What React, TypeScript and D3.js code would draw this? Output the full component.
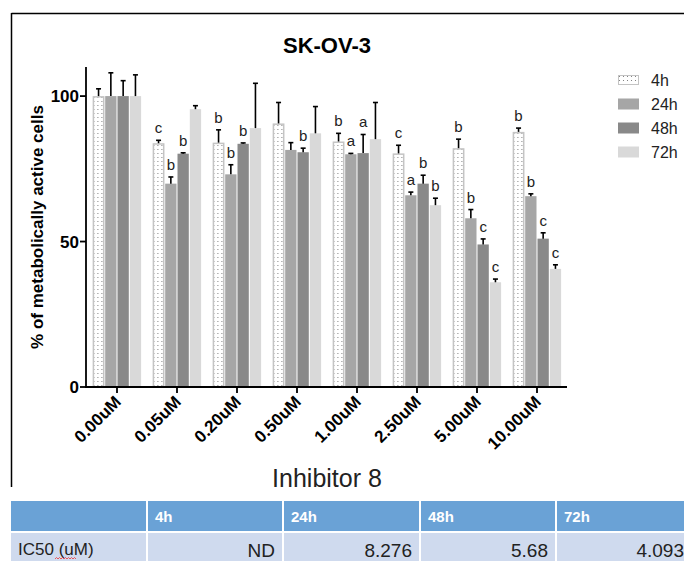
import React from "react";
import * as d3 from "d3";

const concentrations = ["0.00uM", "0.05uM", "0.20uM", "0.50uM", "1.00uM", "2.50uM", "5.00uM", "10.00uM"];
const seriesNames = ["4h", "24h", "48h", "72h"];
const mean4h = [100, 83.8, 84, 90.6, 84.4, 80.3, 82.1, 87.7];
const err4h = [2.5, 1, 4.4, 7.2, 2.8, 2.8, 3.1, 1.3];
const mean24h = [100, 69.9, 73.1, 81.5, 80, 65.9, 58, 65.6];
const err24h = [8, 2.3, 3.3, 2.5, 0.3, 1.1, 3, 0.8];
const mean48h = [100, 80.2, 83.6, 80.7, 80.4, 69.9, 49, 51];
const err48h = [5.3, 0.3, 0.3, 1.4, 6.4, 2.9, 1.9, 2];
const mean72h = [100, 95.5, 89, 87.2, 85.2, 62.5, 36, 40.6];
const err72h = [7.3, 1.2, 15.4, 9.2, 12.6, 2.4, 1.1, 1.4];
const letters4h = ["", "c", "b", "", "b", "c", "b", "b"];
const letters24h = ["", "b", "b", "", "a", "a", "b", "b"];
const letters48h = ["", "b", "b", "b", "a", "b", "c", "c"];
const letters72h = ["", "", "", "", "", "b", "c", "c"];
const yTicks = [0, 50, 100];
const tableHeader = ["", "4h", "24h", "48h", "72h"];
const tableRow = ["IC50 (uM)", "ND", "8.276", "5.68", "4.093"];

const means = [mean4h, mean24h, mean48h, mean72h];
const errs = [err4h, err24h, err48h, err72h];
const letters = [letters4h, letters24h, letters48h, letters72h];
const fills = ["url(#dots)", "#a6a6a6", "#898989", "#d9d9d9"];

const FONT = "'Liberation Sans', Arial, sans-serif";
const NARROW = "'Liberation Sans Narrow', 'Arial Narrow', 'Liberation Sans', Arial, sans-serif";

export default function App() {
  const W = 684, H = 561;
  const x = d3.scaleBand().domain(concentrations).range([87, 567]).paddingInner(0.18).paddingOuter(0.09);
  const xs = d3.scaleBand().domain(seriesNames).range([0, x.bandwidth()]);
  const y = d3.scaleLinear().domain([0, 110]).range([387, 67]);
  const colX = [11, 147, 283, 420, 556, 692];

  return (
    <svg width={W} height={H} style={{ position: "absolute", left: 0, top: 0 }} fontFamily={FONT}>
      <defs>
        <pattern id="dots" width="4" height="4" patternUnits="userSpaceOnUse">
          <rect width="4" height="4" fill="#ffffff" />
          <circle cx="1.5" cy="1.5" r="0.55" fill="#6e6e6e" />
        </pattern>
      </defs>
      <rect width={W} height={H} fill="#fff" />
      <line x1={11.5} y1={13.5} x2={684} y2={13.5} stroke="#000" strokeWidth={1.5} />
      <line x1={11.5} y1={13} x2={11.5} y2={487} stroke="#000" strokeWidth={1.5} />

      <text x={327} y={53} textAnchor="middle" fontWeight="bold" fontSize={22}>SK-OV-3</text>

      {concentrations.map((c, i) => (
        <g key={c} transform={`translate(${x(c)},0)`}>
          {seriesNames.map((s, k) => {
            const v = means[k][i];
            const bx = xs(s)!;
            const bw = xs.bandwidth();
            const top = y(v);
            const et = y(v + errs[k][i]);
            const cx = bx + bw / 2;
            return (
              <g key={s}>
                {k === 0 ? (
                  <rect x={bx + 1} y={top + 0.75} width={bw - 2} height={y(0) - top - 0.75} fill={fills[k]} stroke="#c4c4c4" strokeWidth={1.5} />
                ) : (
                  <rect x={bx + 0.5} y={top} width={bw - 1} height={y(0) - top} fill={fills[k]} />
                )}
                <line x1={cx} x2={cx} y1={top} y2={et} stroke="#000" strokeWidth={1.6} />
                <line x1={cx - 2.5} x2={cx + 2.5} y1={et} y2={et} stroke="#000" strokeWidth={1.6} />
                {letters[k][i] && (
                  <text x={cx} y={et - 7} textAnchor="middle" fontSize={15} fill="#222">{letters[k][i]}</text>
                )}
              </g>
            );
          })}
        </g>
      ))}

      <line x1={86} x2={86} y1={67} y2={388} stroke="#000" strokeWidth={1.8} />
      <line x1={85} x2={567} y1={387} y2={387} stroke="#000" strokeWidth={1.8} />
      {yTicks.map((t) => (
        <g key={t}>
          <line x1={80} x2={86} y1={y(t)} y2={y(t)} stroke="#000" strokeWidth={1.8} />
          <text x={79} y={y(t) + 6} textAnchor="end" fontWeight="bold" fontSize={17}>{t}</text>
        </g>
      ))}
      {concentrations.map((c) => {
        const cx = x(c)! + x.bandwidth() / 2;
        return (
          <g key={c}>
            <line x1={cx} x2={cx} y1={387} y2={393} stroke="#000" strokeWidth={1.8} />
            <text transform={`translate(${cx + 5},${403}) rotate(-45)`} textAnchor="end" fontWeight="bold" fontSize={17}>{c}</text>
          </g>
        );
      })}
      <text transform="translate(43,227) rotate(-90)" textAnchor="middle" fontWeight="bold" fontSize={17}>% of metabolically active cells</text>

      {seriesNames.map((s, k) => (
        <g key={s} transform={`translate(618,${75 + k * 24})`}>
          {k === 0 ? (
            <rect x={0.5} y={0.5} width={20} height={9} fill={fills[k]} stroke="#c4c4c4" strokeWidth={1} />
          ) : (
            <rect x={0} y={-0.5} width={21} height={11} fill={fills[k]} />
          )}
          <text x={33} y={11} fontSize={16} fill="#222">{s}</text>
        </g>
      ))}

      <text x={327} y={487} textAnchor="middle" fontSize={25} fill="#222">Inhibitor 8</text>

      <rect x={11} y={501} width={W - 11} height={30} fill="#6aa2d6" />
      <rect x={11} y={533} width={W - 11} height={28} fill="#cfdaee" />
      {colX.slice(1, 5).map((cx) => (
        <line key={cx} x1={cx} x2={cx} y1={501} y2={561} stroke="#fff" strokeWidth={2} />
      ))}
      <line x1={11} x2={W} y1={532} y2={532} stroke="#fff" strokeWidth={2} />
      {tableHeader.map((h, i) => (
        <text key={"h" + i} x={colX[i] + 8} y={522} fill="#fff" fontWeight="bold" fontSize={15} fontFamily={NARROW}>{h}</text>
      ))}
      <text x={18} y={555} fontSize={17} fill="#222" fontFamily={NARROW}>{tableRow[0]}</text>
      <path d="M55,559 l1.5,-1.5 l1.5,1.5 l1.5,-1.5 l1.5,1.5 l1.5,-1.5 l1.5,1.5 l1.5,-1.5 l1.5,1.5 l1.5,-1.5 l1.5,1.5 l1.5,-1.5 l1.5,1.5 l1.5,-1.5 l1.5,1.5" fill="none" stroke="#e33" strokeWidth={0.8} />
      {tableRow.slice(1).map((v, i) => (
        <text key={"v" + i} x={colX[i + 2] - 8} y={557} textAnchor="end" fontSize={19} fill="#222" fontFamily={NARROW}>{v}</text>
      ))}
    </svg>
  );
}
